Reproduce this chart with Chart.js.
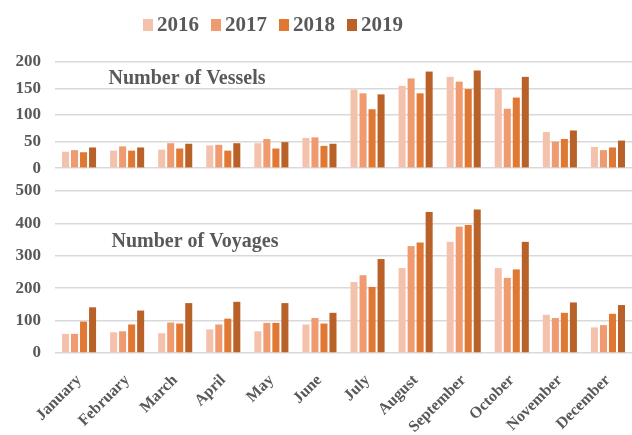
<!DOCTYPE html>
<html lang="en">
<head>
  <meta charset="UTF-8">
  <title>Vessels and Voyages</title>
  <script src="https://cdn.jsdelivr.net/npm/chart.js"></script>
  <style>
    body {
      margin: 0;
      background: #fff;
    }
    #wrap {
      position: relative;
      width: 632px;
      height: 435px;
    }
    #legend {
      position: absolute;
      left: 143px;
      top: 12px;
      display: flex;
      font-family: "Liberation Serif", serif;
      font-weight: bold;
      font-size: 21px;
      color: #595959;
    }
    .item {
      display: flex;
      align-items: center;
      margin-right: 12px;
    }
    .box {
      width: 10px;
      height: 12px;
      margin-right: 4px;
    }
  </style>
</head>
<body>
  <div id="wrap">
    <canvas id="chart" width="632" height="435"></canvas>
    <div id="legend"></div>
  </div>

  <script>
    const months = ['January', 'February', 'March', 'April', 'May', 'June',
      'July', 'August', 'September', 'October', 'November', 'December'];
    const years = ['2016', '2017', '2018', '2019'];
    const colors = ['#f4c1ac', '#ef9a6f', '#e07733', '#b8622a'];

    // Number of Vessels
    const vessels2016 = [31, 33, 35, 43, 47, 57, 148, 155, 172, 151, 68, 40];
    const vessels2017 = [34, 41, 47, 44, 55, 58, 141, 169, 163, 112, 50, 34];
    const vessels2018 = [30, 33, 37, 33, 37, 42, 111, 141, 149, 133, 55, 39];
    const vessels2019 = [39, 39, 46, 47, 49, 46, 139, 182, 184, 172, 71, 52];

    // Number of Voyages
    const voyages2016 = [59, 64, 61, 73, 67, 88, 219, 262, 343, 262, 118, 79];
    const voyages2017 = [59, 67, 94, 88, 93, 108, 240, 330, 390, 232, 108, 86];
    const voyages2018 = [97, 88, 91, 106, 93, 91, 204, 341, 395, 258, 124, 121];
    const voyages2019 = [141, 131, 154, 158, 154, 124, 290, 435, 443, 343, 156, 148];

    const vesselTicks = [0, 50, 100, 150, 200];
    const voyageTicks = [0, 100, 200, 300, 400, 500];

    const vesselSeries = [vessels2016, vessels2017, vessels2018, vessels2019];
    const voyageSeries = [voyages2016, voyages2017, voyages2018, voyages2019];

    const textColor = '#595959';
    const gridColor = '#d9d9d9';
    const serif = '"Liberation Serif", "Times New Roman", serif';

    const datasets = [];
    vesselSeries.forEach((data, i) => {
      datasets.push({ label: years[i], data: data, yAxisID: 'yv', stack: years[i], backgroundColor: colors[i] });
    });
    voyageSeries.forEach((data, i) => {
      datasets.push({ label: years[i], data: data, yAxisID: 'yy', stack: years[i], backgroundColor: colors[i] });
    });

    // Legend in HTML
    const legendEl = document.getElementById('legend');
    years.forEach((y, i) => {
      const item = document.createElement('div');
      item.className = 'item';
      item.innerHTML = `<span class="box" style="background:${colors[i]}"></span><span>${y}</span>`;
      legendEl.appendChild(item);
    });

    // Panel titles
    const panelTitles = {
      id: 'panelTitles',
      afterDatasetsDraw(chart) {
        const ctx = chart.ctx;
        ctx.save();
        ctx.font = 'bold 20px ' + serif;
        ctx.fillStyle = textColor;
        ctx.textAlign = 'center';
        ctx.textBaseline = 'middle';
        ctx.fillText('Number of Vessels', 187, 79);
        ctx.fillText('Number of Voyages', 195, 242);
        ctx.restore();
      }
    };

    const tickFont = { family: serif, size: 17, weight: 'bold' };

    // The two panels share the x axis and sit on top of each other
    function yAxis(min, max, ticksList, weight) {
      return {
        type: 'linear',
        position: 'left',
        stack: 'panels',
        stackWeight: weight,
        min: min,
        max: max,
        afterBuildTicks: scale => {
          scale.ticks = ticksList.map(v => ({ value: v }));
        },
        afterFit: scale => { scale.width = 55; },
        border: { display: false },
        grid: { color: gridColor, lineWidth: 1.5, drawTicks: false },
        ticks: { autoSkip: false, padding: 14, color: textColor, font: tickFont }
      };
    }

    new Chart(document.getElementById('chart'), {
      type: 'bar',
      data: { labels: months, datasets: datasets },
      options: {
        responsive: false,
        animation: false,
        categoryPercentage: 0.75,
        barPercentage: 0.78,
        layout: { padding: { top: 62, right: 0, left: 0, bottom: 0 } },
        plugins: {
          legend: { display: false },
          tooltip: { enabled: false }
        },
        scales: {
          x: {
            afterFit: scale => { scale.height = 82; },
            border: { display: false },
            grid: { display: false },
            ticks: {
              autoSkip: false,
              maxRotation: 45,
              minRotation: 45,
              padding: 10,
              color: textColor,
              font: { family: serif, size: 16, weight: 'bold' }
            }
          },
          // order matters: the later axis is placed on top
          yy: yAxis(0, 500, voyageTicks, 162),
          yv: yAxis(-43, 200, vesselTicks, 129)
        }
      },
      plugins: [panelTitles]
    });
  </script>
</body>
</html>
